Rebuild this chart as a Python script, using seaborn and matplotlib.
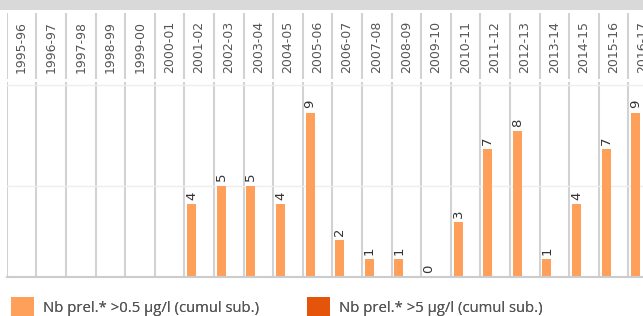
import matplotlib
matplotlib.use('Agg')
import matplotlib.pyplot as plt
import seaborn as sns
import pandas as pd
import numpy as np
from matplotlib.patches import Patch, Rectangle

seasons = ['1995-96', '1996-97', '1997-98', '1998-99', '1999-00', '2000-01',
           '2001-02', '2002-03', '2003-04', '2004-05', '2005-06', '2006-07',
           '2007-08', '2008-09', '2009-10', '2010-11', '2011-12', '2012-13',
           '2013-14', '2014-15', '2015-16', '2016-17']
nb_05 = [np.nan, np.nan, np.nan, np.nan, np.nan, np.nan,
         4, 5, 5, 4, 9, 2, 1, 1, 0, 3, 7, 8, 1, 4, 7, 9]
nb_5 = [np.nan] * len(seasons)
series_labels = ['Nb prel.* >0.5 µg/l (cumul sub.)', 'Nb prel.* >5 µg/l (cumul sub.)']
colors = ['#FFA05A', '#E5540B']

sns.set_theme(style='white')
plt.rcParams['font.family'] = ['DejaVu Sans']

W, H = 643, 316
fig = plt.figure(figsize=(W / 100, H / 100), dpi=100)
fig.patch.set_facecolor('white')

def fx(px):
    return px / W

def fy(py):
    return 1 - py / H

# top gray band
fig.patches.append(Rectangle((0, fy(10)), 1, 10 / H, transform=fig.transFigure,
                             facecolor='#d9d9d9', edgecolor='none', zorder=0))

n = len(seasons)
left, colw = 6.7, 29.6
ax = fig.add_axes([fx(left), fy(277), n * colw / W, (277 - 82) / H])
hx = fig.add_axes([fx(left), fy(79), n * colw / W, (79 - 13) / H])

df = pd.DataFrame({
    'season': seasons * 2,
    'value': nb_05 + nb_5,
    'serie': [series_labels[0]] * n + [series_labels[1]] * n,
})
sns.barplot(data=df, x='season', y='value', hue='serie', order=seasons,
            hue_order=series_labels, palette=colors, saturation=1,
            width=1.0, gap=0.38, linewidth=0, ax=ax, legend=False)

ax.set_xlim(-0.5, n - 0.5)
ax.set_ylim(0, 10.67)
hx.set_xlim(-0.5, n - 0.5)
hx.set_ylim(0, 1)

for i in range(n + 1):
    ax.axvline(i - 0.5, color='#d2d2d2', lw=1.5, zorder=0)
    hx.axvline(i - 0.5, color='#d2d2d2', lw=1.5, zorder=0)
ax.axhline(5, color='#eeeeee', lw=1, zorder=0)
ax.axhline(10.5, color='#eeeeee', lw=1, zorder=0)

for s in ['top', 'left', 'right']:
    ax.spines[s].set_visible(False)
ax.spines['bottom'].set_color('#cccccc')
ax.spines['bottom'].set_linewidth(1.5)
for s in hx.spines.values():
    s.set_visible(False)
hx.set_xticks([])
hx.set_yticks([])
hx.patch.set_alpha(0)

ax.set_yticks([])
ax.set_xlabel('')
ax.set_ylabel('')
ax.tick_params(axis='x', bottom=False, labelbottom=False, top=False, labeltop=True,
               length=0, pad=6.5, labelrotation=90, labelsize=9, labelcolor='#555555')

# value labels
c0 = ax.containers[0]
lab = []
for b in c0:
    h = b.get_height()
    lab.append('' if np.isnan(h) else f'{int(h)}')
ax.bar_label(c0, labels=lab, rotation=90, padding=3, fontsize=9.5, color='#333333')

# legends
fs = 10.7
fs_px = fs * 100 / 72
for (x0, lbl, col) in [(11, series_labels[0], colors[0]), (307, series_labels[1], colors[1])]:
    leg = fig.legend(handles=[Patch(facecolor=col, edgecolor='none')], labels=[lbl],
                     loc='upper left', bbox_to_anchor=(fx(x0), fy(297)),
                     frameon=False, borderpad=0, borderaxespad=0,
                     handlelength=23 / fs_px, handleheight=26 / fs_px,
                     handletextpad=9 / fs_px,
                     prop={'family': 'Open Sans', 'size': fs})
    for t in leg.get_texts():
        t.set_color('#555555')
    fig.add_artist(leg)

fig.savefig('out.png', dpi=100)
